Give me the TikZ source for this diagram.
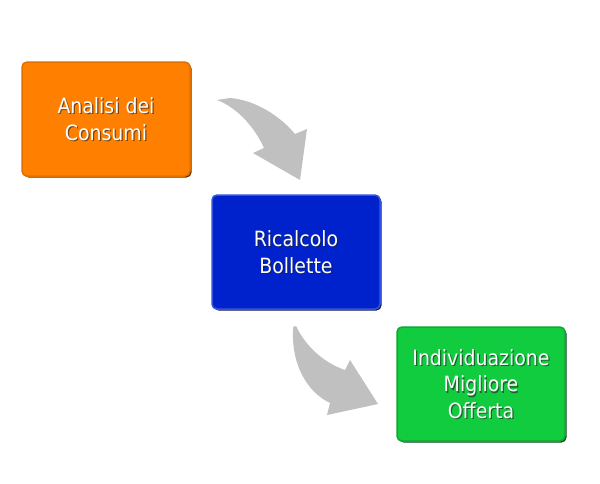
\documentclass[tikz,border=0pt]{standalone}
\usepackage{fontspec}
\setmainfont{DejaVu Sans Condensed}
\usetikzlibrary{shadows}
\definecolor{orangeF}{HTML}{FF8000}
\definecolor{orangeE}{HTML}{E07000}
\definecolor{orangeS}{HTML}{5A3000}
\definecolor{blueF}{HTML}{0022CC}
\definecolor{blueE}{HTML}{3355DD}
\definecolor{blueS}{HTML}{101850}
\definecolor{greenF}{HTML}{11CC3F}
\definecolor{greenE}{HTML}{0EA832}
\definecolor{greenS}{HTML}{0A4A18}
\definecolor{arrowgray}{HTML}{C0C0C0}
\definecolor{txtshadow}{HTML}{202020}
\tikzset{
  box/.style={draw=#1E, line width=1.5pt, fill=#1F, rounded corners=5pt,
    minimum width=168pt, minimum height=114pt, inner sep=0pt,
    drop shadow={shadow xshift=1.5pt, shadow yshift=-1.5pt, fill=#1S, opacity=1}},
  lbl/.style={text=white, align=center, font=\fontsize{21}{26.5}\selectfont, inner sep=0pt},
  lblsh/.style={text=txtshadow, text opacity=0.6, align=center, font=\fontsize{21}{26.5}\selectfont, inner sep=0pt},
  curvearrow/.style={fill=arrowgray}
}
\begin{document}
\begin{tikzpicture}[x=1pt,y=-1pt]
\useasboundingbox (0,0) rectangle (600,483);
\fill[white] (0,0) rectangle (600,483);
% arrows
\fill[curvearrow] (217,100) -- (230,98) .. controls (256,100) and (281,117) .. (295,134)
  -- (307,129) -- (300,180) -- (253,153) -- (264,148)
  .. controls (255,128) and (238,108) .. (217,100) -- cycle;
\fill[curvearrow] (293,327) -- (296,326) .. controls (305,345) and (322,362) .. (345,370)
  -- (350,360) -- (378,404) -- (327,415) -- (330,403)
  .. controls (307,392) and (292,365) .. (293,332) -- cycle;
% boxes
\node[box=orange] (a) at (106,119) {};
\node[box=blue] (b) at (296,252) {};
\node[box=green] (c) at (481,384) {};
% labels
\node[lblsh] (ash) at ([xshift=1.2pt,yshift=-1.2pt]a.center) {Analisi dei\\Consumi};
\node[lbl] (at) at (a.center) {Analisi dei\\Consumi};
\node[lblsh] (bsh) at ([xshift=1.2pt,yshift=-1.2pt]b.center) {Ricalcolo\\Bollette};
\node[lbl] (bt) at (b.center) {Ricalcolo\\Bollette};
\node[lblsh] (csh) at ([xshift=1.2pt,yshift=-1.2pt]c.center) {Individuazione\\Migliore\\Offerta};
\node[lbl] (ct) at (c.center) {Individuazione\\Migliore\\Offerta};
\end{tikzpicture}
\end{document}
